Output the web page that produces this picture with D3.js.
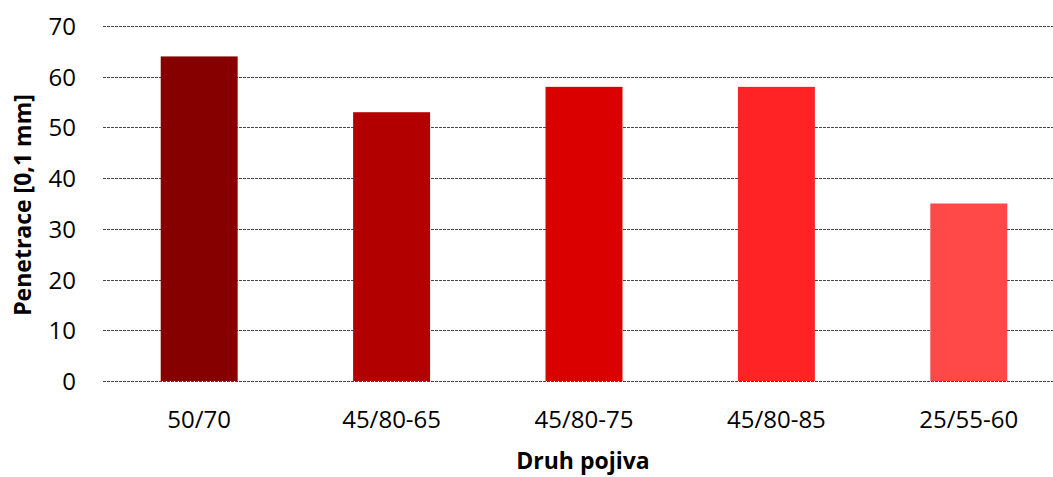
<!DOCTYPE html>
<html>
<head>
<meta charset="utf-8">
<script src="https://cdn.jsdelivr.net/npm/d3@7"></script>
<style>
  body { margin: 0; background: #fff; }
  svg text { font-family: "Open Sans", "Noto Sans", sans-serif; fill: #000; }
</style>
</head>
<body>
<div id="chart"></div>
<script>
const categories = ["50/70", "45/80-65", "45/80-75", "45/80-85", "25/55-60"];
const values = [64, 53, 58, 58, 35];
const barColors = ["#870000", "#b20000", "#da0000", "#ff2326", "#ff4848"];
const yTicks = [0, 10, 20, 30, 40, 50, 60, 70];

const width = 1053;
const height = 477;
const plot = { left: 103, right: 1065, top: 26, bottom: 381 };

const svg = d3.select("#chart")
    .append("svg")
    .attr("width", width)
    .attr("height", height);

const x = d3.scaleBand()
    .domain(categories)
    .range([plot.left, plot.right])
    .paddingInner(0.6)
    .paddingOuter(0.3);

const y = d3.scaleLinear()
    .domain([0, 70])
    .range([plot.bottom, plot.top]);

// gridlines
svg.append("g")
    .selectAll("line")
    .data(yTicks)
    .enter()
    .append("line")
    .attr("x1", plot.left)
    .attr("x2", width)
    .attr("y1", d => Math.round(y(d)) + 0.5)
    .attr("y2", d => Math.round(y(d)) + 0.5)
    .attr("stroke", "#444")
    .attr("stroke-width", 1)
    .attr("stroke-dasharray", "3,1");

// y tick labels
svg.append("g")
    .selectAll("text")
    .data(yTicks)
    .enter()
    .append("text")
    .attr("x", 76)
    .attr("y", d => y(d) + 9)
    .attr("text-anchor", "end")
    .style("font-size", "24px")
    .text(d => d);

// bars
svg.append("g")
    .selectAll("rect")
    .data(values)
    .enter()
    .append("rect")
    .attr("x", (d, i) => x(categories[i]))
    .attr("y", d => y(d))
    .attr("width", x.bandwidth())
    .attr("height", d => y(0) - y(d))
    .attr("fill", (d, i) => barColors[i]);

// x tick labels
svg.append("g")
    .selectAll("text")
    .data(categories)
    .enter()
    .append("text")
    .attr("x", d => x(d) + x.bandwidth() / 2)
    .attr("y", 428)
    .attr("text-anchor", "middle")
    .style("font-size", "24px")
    .text(d => d);

// axis titles
svg.append("text")
    .attr("x", 583)
    .attr("y", 469)
    .attr("text-anchor", "middle")
    .style("font-size", "23px")
    .style("font-weight", "bold")
    .text("Druh pojiva");

svg.append("text")
    .attr("transform", "translate(31,205) rotate(-90)")
    .attr("text-anchor", "middle")
    .style("font-size", "23px")
    .style("font-weight", "bold")
    .text("Penetrace [0,1 mm]");
</script>
</body>
</html>
